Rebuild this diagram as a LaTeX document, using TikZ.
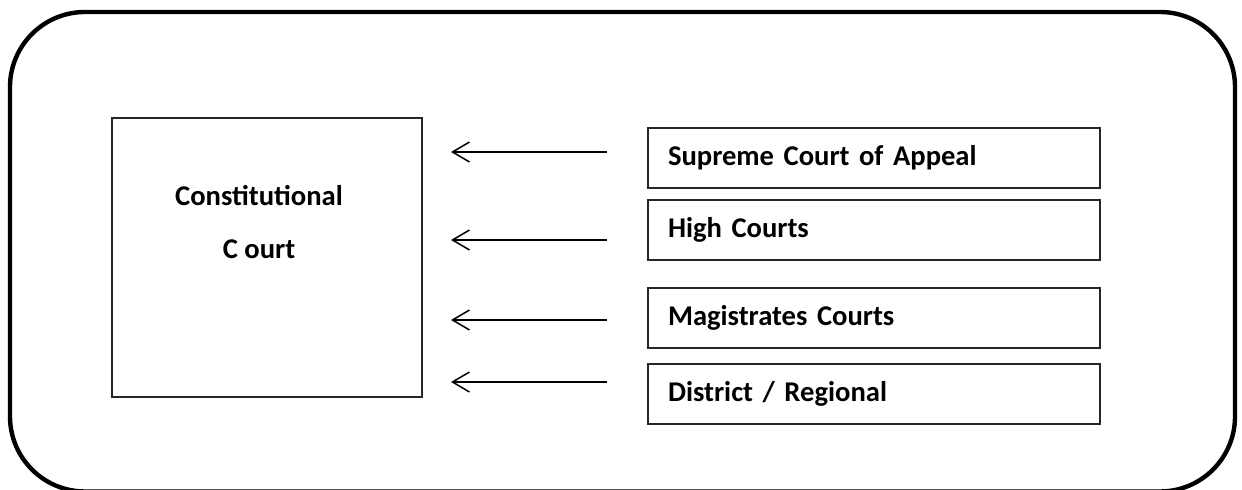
\documentclass[tikz,border=0pt]{standalone}
\usepackage{fontspec}
\setmainfont{Carlito}
\usetikzlibrary{positioning,arrows.meta}

\tikzset{
  court/.style={draw=black!85, line width=0.7pt, minimum height=30pt, text width=206pt,
    inner xsep=10pt, inner ysep=0pt, align=left, font=\fontsize{14.3}{17}\selectfont\bfseries},
  appeal/.style={-{Straight Barb[length=8.5pt,width=10pt,line width=0.75pt]}, line width=0.75pt}
}

\begin{document}
\begin{tikzpicture}[x=0.5pt,y=-0.5pt]
    \useasboundingbox (0,0) rectangle (1242,490);
    % outer frame
    \draw[line width=2.2pt, rounded corners=37.5pt] (10,12) rectangle (1235,491.5);
    % constitutional court
    \node[draw=black!85, line width=0.7pt, minimum width=155pt, minimum height=139.5pt, inner sep=0pt] (cc) at (267,257.5) {};
    \node[font=\fontsize{14.3}{26.5}\selectfont\bfseries, align=center] (cclabel) at (259,222) {Constitutional\\C ourt};
    % lower courts
    \node[court] (sca) at (874,158) {Supreme Court of Appeal};
    \node[court] (hc) at (874,230) {High Courts};
    \node[court] (mc) at (874,318) {Magistrates Courts};
    \node[court] (dr) at (874,394) {District / Regional};
    % arrows
    \coordinate (sca tail) at (607,152);
    \coordinate (sca head) at (451,152);
    \coordinate (hc tail) at (607,240);
    \coordinate (hc head) at (451,240);
    \coordinate (mc tail) at (607,320);
    \coordinate (mc head) at (451,320);
    \coordinate (dr tail) at (607,382);
    \coordinate (dr head) at (451,382);
    \draw[appeal] (sca tail) -- (sca head);
    \draw[appeal] (hc tail) -- (hc head);
    \draw[appeal] (mc tail) -- (mc head);
    \draw[appeal] (dr tail) -- (dr head);
\end{tikzpicture}
\end{document}
